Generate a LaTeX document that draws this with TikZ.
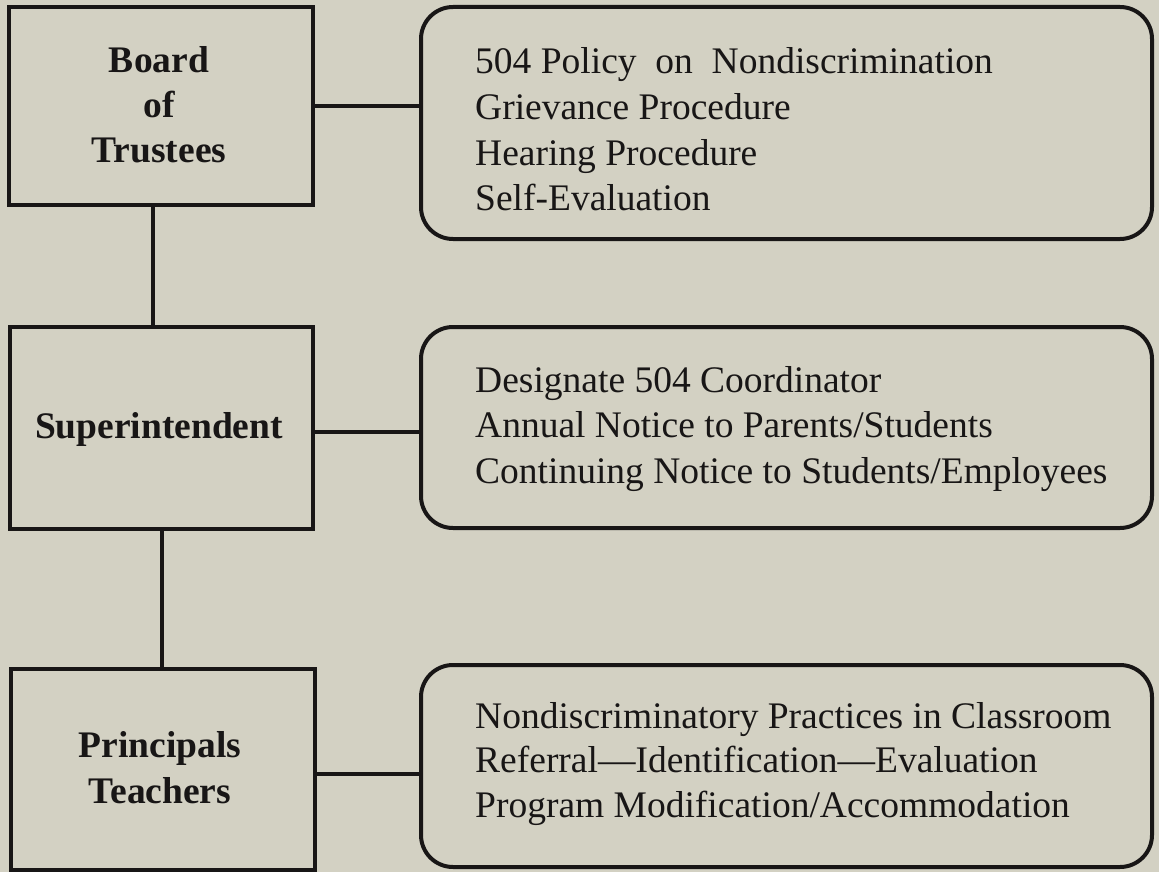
\documentclass[tikz,border=0pt]{standalone}
\usepackage{fontspec}
\setmainfont{Liberation Serif}
\definecolor{paper}{RGB}{211,209,195}
\definecolor{ink}{RGB}{24,22,22}
\begin{document}
\begin{tikzpicture}[x=1pt,y=-1pt,
  rolebox/.style={draw=ink, line width=4pt, rectangle, inner sep=0pt},
  dutybox/.style={draw=ink, line width=4pt, rectangle, rounded corners=32pt, inner sep=0pt},
  link/.style={draw=ink, line width=4pt},
  roletext/.style={anchor=base, inner sep=0pt, text=ink,
    font=\fontsize{37.5}{45}\selectfont\bfseries},
  dutytext/.style={anchor=base west, inner sep=0pt, text=ink,
    font=\fontsize{37.5}{45}\selectfont}]
  % page
  \fill[paper] (0,0) rectangle (1159,872);
  \useasboundingbox (0,0) rectangle (1159,872);

  % left column: the three levels
  \node[rolebox, minimum width=304pt, minimum height=198pt] (board) at (161,106) {};
  \node[rolebox, minimum width=303pt, minimum height=202pt] (supt) at (161.5,428) {};
  \node[rolebox, minimum width=304pt, minimum height=201pt] (prin) at (163,769.5) {};

  % right column: duties of each level
  \node[dutybox, minimum width=731pt, minimum height=232pt] (dboard) at (786.5,123) {};
  \node[dutybox, minimum width=731pt, minimum height=201pt] (dsupt) at (786.5,427.5) {};
  \node[dutybox, minimum width=731pt, minimum height=202pt] (dprin) at (786.5,766) {};

  % connectors
  \draw[link] ([xshift=-8pt]board.south) -- ([xshift=-8pt]board.south |- supt.north);
  \draw[link] (supt.south) -- (supt.south |- prin.north);
  \draw[link] (board.east) -- (board.east -| dboard.west);
  \draw[link] ([yshift=-4pt]supt.east) -- ([yshift=-4pt]supt.east -| dsupt.west);
  \draw[link] ([yshift=-4.5pt]prin.east) -- ([yshift=-4.5pt]prin.east -| dprin.west);

  % level names
  \node[roletext] (t1) at (159,73) {Board};
  \node[roletext] (t2) at (159,118) {of};
  \node[roletext] (t3) at (159,163) {Trustees};
  \node[roletext] (t4) at (159,438) {Superintendent};
  \node[roletext] (t5) at (160,757) {Principals};
  \node[roletext] (t6) at (160,803) {Teachers};

  % duties
  \node[dutytext] (d11) at (475,74) {504 Policy \ on \ Nondiscrimination};
  \node[dutytext] (d12) at (475,119.5) {Grievance Procedure};
  \node[dutytext] (d13) at (475,165) {Hearing Procedure};
  \node[dutytext] (d14) at (475,210) {Self-Evaluation};

  \node[dutytext] (d21) at (475,392) {Designate 504 Coordinator};
  \node[dutytext] (d22) at (475,437.5) {Annual Notice to Parents/Students};
  \node[dutytext] (d23) at (475,483) {Continuing Notice to Students/Employees};

  \node[dutytext] (d31) at (475,728) {Nondiscriminatory Practices in Classroom};
  \node[dutytext] (d32) at (475,772.5) {Referral—Identification—Evaluation};
  \node[dutytext] (d33) at (475,817) {Program Modification/Accommodation};
\end{tikzpicture}
\end{document}
